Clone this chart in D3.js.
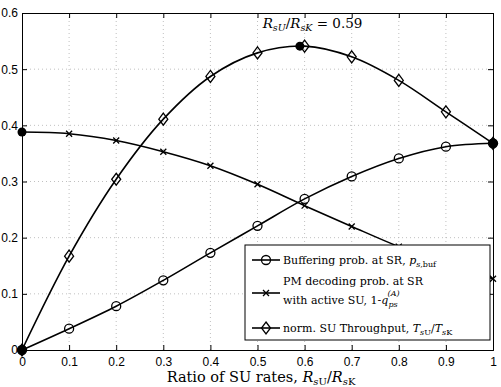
<!DOCTYPE html>
<html>
<head>
<meta charset="utf-8">
<script src="https://cdn.jsdelivr.net/npm/d3@7"></script>
<style>
  body { margin: 0; background: #fff; }
  svg { display: block; }
  .tick text { font-family: "Liberation Sans", Arial, sans-serif; font-size: 12px; fill: #000; }
  .serif { font-family: "DejaVu Serif", "Liberation Serif", serif; }
</style>
</head>
<body>
<div id="chart"></div>
<script>
// ratio of SU rates, R_sU / R_sK
var xVals = [0, 0.1, 0.2, 0.3, 0.4, 0.5, 0.6, 0.7, 0.8, 0.9, 1];
// buffering prob. at SR
var bufProb = [0, 0.038, 0.078, 0.124, 0.173, 0.221, 0.269, 0.309, 0.341, 0.362, 0.368];
// PM decoding prob. at SR with active SU (last points hidden behind legend)
var pmProb = [0.388, 0.385, 0.373, 0.353, 0.328, 0.295, 0.257, 0.220, 0.184, 0.153, 0.127];
// normalised SU throughput
var throughput = [0, 0.167, 0.304, 0.411, 0.487, 0.529, 0.541, 0.522, 0.480, 0.424, 0.368];
// highlighted points (filled dots)
var dotX = [0, 0, 0.59, 1];
var dotY = [0.388, 0, 0.541, 0.368];

var xTicks = [0, 0.1, 0.2, 0.3, 0.4, 0.5, 0.6, 0.7, 0.8, 0.9, 1];
var yTicks = [0, 0.1, 0.2, 0.3, 0.4, 0.5, 0.6];

var W = 501, H = 387;
var margin = {top: 13, right: 8, bottom: 37, left: 22};
var width = W - margin.left - margin.right;
var height = H - margin.top - margin.bottom;

var svg = d3.select("#chart").append("svg")
    .attr("width", W)
    .attr("height", H);

var g = svg.append("g")
    .attr("transform", "translate(" + margin.left + "," + margin.top + ")");

var x = d3.scaleLinear().domain([0, 1]).range([0, width]);
var y = d3.scaleLinear().domain([0, 0.6]).range([height, 0]);

// dotted grid
g.selectAll(".gx").data(xTicks.slice(1, -1)).enter().append("line")
    .attr("x1", function(d) { return x(d); }).attr("x2", function(d) { return x(d); })
    .attr("y1", 0).attr("y2", height)
    .attr("stroke", "#b0b0b0").attr("stroke-width", 0.8).attr("stroke-dasharray", "1,3");
g.selectAll(".gy").data(yTicks.slice(1, -1)).enter().append("line")
    .attr("y1", function(d) { return y(d); }).attr("y2", function(d) { return y(d); })
    .attr("x1", 0).attr("x2", width)
    .attr("stroke", "#b0b0b0").attr("stroke-width", 0.8).attr("stroke-dasharray", "1,3");

// axes, ticks point inward
var fmt = function(d) { return String(+d.toFixed(1)); };
g.append("g").attr("transform", "translate(0," + height + ")")
    .call(d3.axisBottom(x).tickValues(xTicks).tickSize(-5).tickPadding(7).tickFormat(fmt));
g.append("g")
    .call(d3.axisLeft(y).tickValues(yTicks).tickSize(-5).tickPadding(4).tickFormat(fmt));
g.append("g").call(d3.axisTop(x).tickValues(xTicks).tickSize(-5).tickFormat(""));
g.append("g").attr("transform", "translate(" + width + ",0)")
    .call(d3.axisRight(y).tickValues(yTicks).tickSize(-5).tickFormat(""));
g.selectAll(".domain").attr("stroke", "#000").attr("stroke-width", 1);
g.selectAll(".tick line").attr("stroke", "#000");

var line = d3.line()
    .x(function(d) { return x(d[0]); })
    .y(function(d) { return y(d[1]); })
    .curve(d3.curveCatmullRom);

function pairs(ys) { return xVals.map(function(v, i) { return [v, ys[i]]; }); }

var series = [
    {vals: pmProb, marker: "x"},
    {vals: bufProb, marker: "o"},
    {vals: throughput, marker: "d"}
];

function drawMarker(sel, type) {
    if (type === "o") {
        sel.append("circle").attr("r", 4.5).attr("fill", "none").attr("stroke", "#000").attr("stroke-width", 1.3);
    } else if (type === "d") {
        sel.append("path").attr("d", "M0,-6L4.5,0L0,6L-4.5,0Z").attr("fill", "none").attr("stroke", "#000").attr("stroke-width", 1.3);
    } else {
        sel.append("path").attr("d", "M-3,-3L3,3M-3,3L3,-3").attr("stroke", "#000").attr("stroke-width", 1.3);
    }
}

series.forEach(function(s) {
    g.append("path").datum(pairs(s.vals))
        .attr("d", line).attr("fill", "none").attr("stroke", "#000").attr("stroke-width", 1.6);
    g.selectAll(null).data(pairs(s.vals)).enter().append("g")
        .attr("transform", function(d) { return "translate(" + x(d[0]) + "," + y(d[1]) + ")"; })
        .each(function() { drawMarker(d3.select(this), s.marker); });
});

g.selectAll(".dot").data(dotX).enter().append("circle")
    .attr("cx", function(d) { return x(d); })
    .attr("cy", function(d, i) { return y(dotY[i]); })
    .attr("r", 4.5).attr("fill", "#000");

// annotation
var ann = g.append("text").attr("class", "serif").attr("x", x(0.511)).attr("y", 15).attr("font-size", 13.5);
ann.append("tspan").attr("font-style", "italic").text("R");
ann.append("tspan").attr("font-style", "italic").attr("font-size", 9.5).attr("dy", 3).text("sU");
ann.append("tspan").attr("dy", -3).text("/");
ann.append("tspan").attr("font-style", "italic").text("R");
ann.append("tspan").attr("font-style", "italic").attr("font-size", 9.5).attr("dy", 3).text("sK");
ann.append("tspan").attr("dy", -3).text(" = 0.59");

// x label
var xl = svg.append("text").attr("class", "serif").attr("x", 261).attr("y", 382)
    .attr("text-anchor", "middle").attr("font-size", 14.5);
xl.append("tspan").text("Ratio of SU rates, ");
xl.append("tspan").attr("font-style", "italic").text("R");
xl.append("tspan").attr("font-size", 10).attr("dy", 3).attr("font-style", "italic").text("s");
xl.append("tspan").attr("font-size", 10).text("U");
xl.append("tspan").attr("dy", -3).text("/");
xl.append("tspan").attr("font-style", "italic").text("R");
xl.append("tspan").attr("font-size", 10).attr("dy", 3).attr("font-style", "italic").text("s");
xl.append("tspan").attr("font-size", 10).text("K");

// legend
var lg = svg.append("g").attr("transform", "translate(245,245)");
lg.append("rect").attr("width", 245).attr("height", 95)
    .attr("fill", "#fff").attr("stroke", "#000").attr("stroke-width", 1);

var legRows = [
    {marker: "o", cy: 15},
    {marker: "x", cy: 48},
    {marker: "d", cy: 83}
];
legRows.forEach(function(r) {
    lg.append("line").attr("x1", 7).attr("x2", 35).attr("y1", r.cy).attr("y2", r.cy)
        .attr("stroke", "#000").attr("stroke-width", 1.6);
    var m = lg.append("g").attr("transform", "translate(21," + r.cy + ")");
    drawMarker(m, r.marker);
});

var fs = 11;
var t1 = lg.append("text").attr("class", "serif").attr("x", 38).attr("y", 19).attr("font-size", fs);
t1.append("tspan").text("Buffering prob.  at SR, ");
t1.append("tspan").attr("font-style", "italic").text("p");
t1.append("tspan").attr("font-size", 8).attr("dy", 3).attr("font-style", "italic").text("s");
t1.append("tspan").attr("font-size", 8).text(",buf");

lg.append("text").attr("class", "serif").attr("x", 38).attr("y", 40).attr("font-size", fs)
    .text("PM decoding prob.  at SR");
var t2 = lg.append("text").attr("class", "serif").attr("x", 38).attr("y", 59).attr("font-size", fs);
t2.append("tspan").text("with active SU, 1-");
t2.append("tspan").attr("font-style", "italic").text("q");
t2.append("tspan").attr("font-size", 8).attr("dy", 3).attr("font-style", "italic").text("ps");
t2.append("tspan").attr("font-size", 8).attr("dx", -10).attr("dy", -11).attr("font-style", "italic").text("(A)");

var t3 = lg.append("text").attr("class", "serif").attr("x", 38).attr("y", 87).attr("font-size", fs);
t3.append("tspan").text("norm.  SU Throughput, ");
t3.append("tspan").attr("font-style", "italic").text("T");
t3.append("tspan").attr("font-size", 8).attr("dy", 3).attr("font-style", "italic").text("s");
t3.append("tspan").attr("font-size", 8).text("U");
t3.append("tspan").attr("dy", -3).text("/");
t3.append("tspan").attr("font-style", "italic").text("T");
t3.append("tspan").attr("font-size", 8).attr("dy", 3).attr("font-style", "italic").text("s");
t3.append("tspan").attr("font-size", 8).text("K");
</script>
</body>
</html>
